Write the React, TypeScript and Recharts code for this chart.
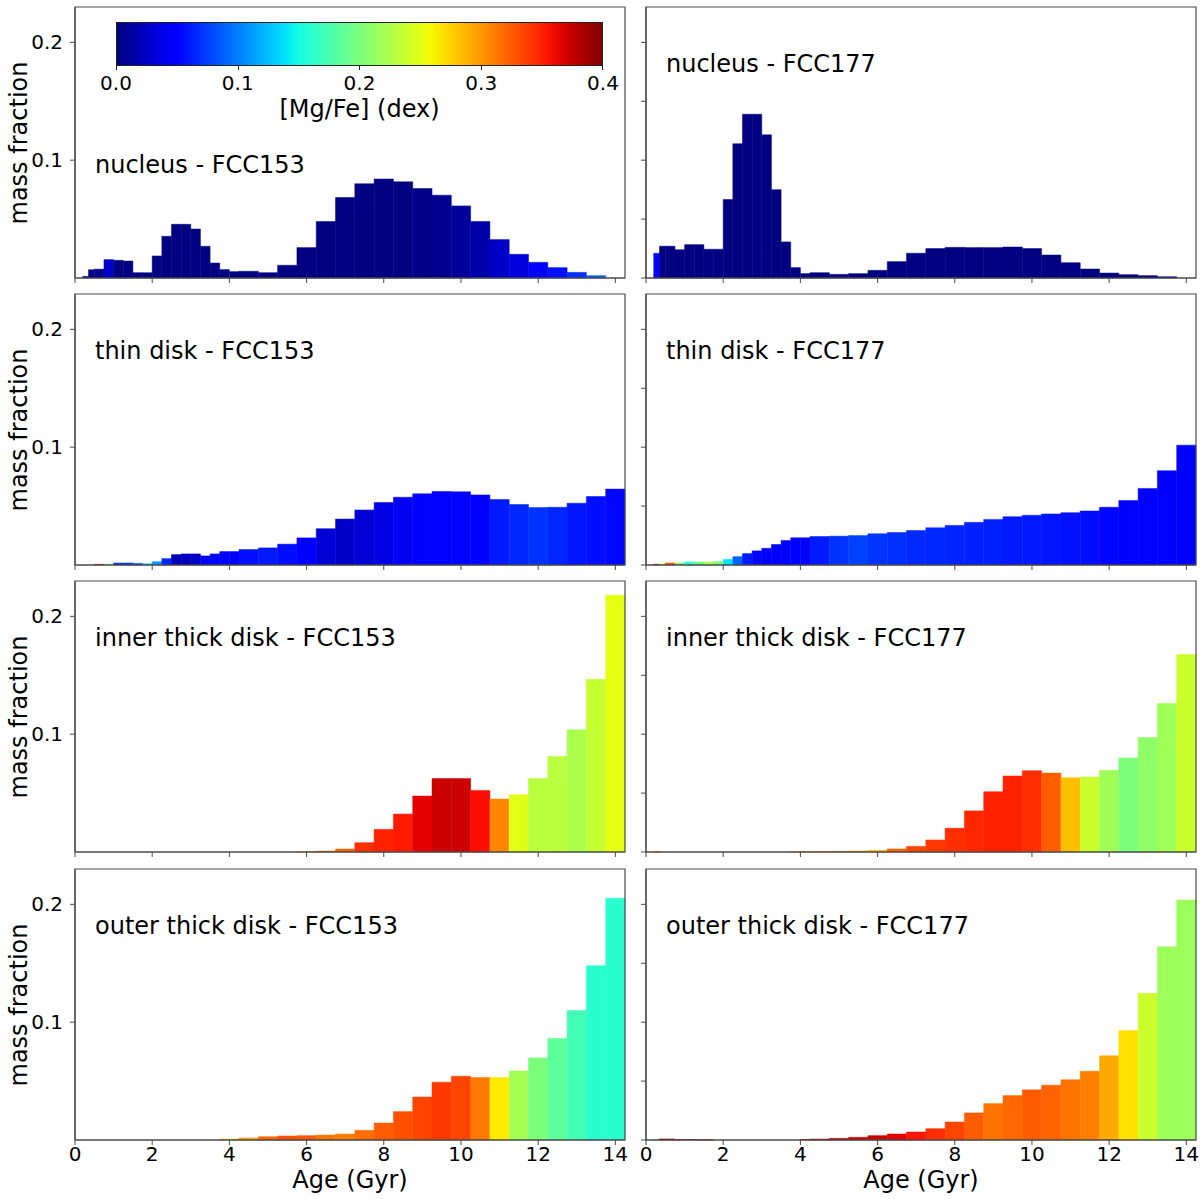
import { ComposedChart, XAxis, YAxis, ReferenceArea } from 'recharts'

// age bin edges (Gyr), shared by all panels: 0.25 steps up to 4.25, 0.5 steps after
const AGE_EDGES = [
  0.2, 0.35, 0.5, 0.75, 1.0, 1.25, 1.5, 1.75, 2.0,
  2.25, 2.5, 2.75, 3.0, 3.25, 3.5, 3.75, 4.0, 4.25,
  4.75, 5.25, 5.75, 6.25, 6.75, 7.25, 7.75, 8.25, 8.75, 9.25,
  9.75, 10.25, 10.75, 11.25, 11.75, 12.25, 12.75, 13.25, 13.75, 14.25,
]
const X_TICKS = [0, 2, 4, 6, 8, 10, 12, 14]
const Y_TICKS_LEFT = [0.1, 0.2]
const Y_TICKS_RIGHT = [0, 0.05, 0.1, 0.15, 0.2]
const CBAR_TICKS = [0, 0.1, 0.2, 0.3, 0.4]
const X_MAX = 14.25
const Y_MAX = 0.23
const MGFE_MAX = 0.4

// mass fraction per bin / [Mg/Fe] per bin
const NUCLEUS_153_FRAC = [
  0.0014, 0.007, 0.0075, 0.0156, 0.015, 0.0144, 0.0045, 0.0045,
  0.0187, 0.0354, 0.0456, 0.0456, 0.0416, 0.0269, 0.0127, 0.0071, 0.0054,
  0.0057, 0.0045, 0.0108, 0.0258, 0.048, 0.0683, 0.080, 0.084, 0.0816, 0.0759,
  0.0703, 0.0612, 0.048, 0.0326, 0.0201, 0.0133, 0.0088, 0.0048, 0.002, 0,
]
const NUCLEUS_153_MGFE = [
  0, 0, 0.005, 0.025, 0, 0, 0, 0,
  0, 0, 0, 0, 0, 0, 0, 0, 0,
  0, 0, 0, 0, 0, 0, 0, 0, 0, 0.003,
  0.005, 0.009, 0.015, 0.025, 0.033, 0.042, 0.056, 0.068, 0.087, 0,
]
const NUCLEUS_177_FRAC = [
  0.021, 0.027, 0.027, 0.024, 0.0283, 0.0283, 0.0244, 0.0244,
  0.0666, 0.1139, 0.139, 0.139, 0.1215, 0.075, 0.0306, 0.0088, 0.0037,
  0.0045, 0.0031, 0.0037, 0.0065, 0.0139, 0.021, 0.025, 0.026, 0.0258, 0.0258,
  0.0263, 0.025, 0.0195, 0.013, 0.0076, 0.0042, 0.0028, 0.002, 0.0011, 0,
]
const NUCLEUS_177_MGFE = [
  0.05, 0, 0, 0, 0, 0, 0, 0,
  0, 0, 0, 0, 0, 0, 0, 0, 0,
  0, 0, 0, 0, 0, 0, 0, 0, 0, 0,
  0, 0, 0, 0, 0, 0, 0, 0, 0, 0,
]
const THIN_153_FRAC = [
  0, 0, 0.0006, 0.0006, 0.0017, 0.0017, 0.0014, 0.0011,
  0.0028, 0.0054, 0.0088, 0.0094, 0.0094, 0.0077, 0.0094, 0.0114, 0.0114,
  0.0131, 0.0145, 0.0177, 0.023, 0.0308, 0.039, 0.0467, 0.053, 0.0575, 0.0604,
  0.0624, 0.0621, 0.0595, 0.0556, 0.0513, 0.0487, 0.049, 0.0524, 0.0581, 0.0644,
]
const THIN_153_MGFE = [
  0, 0, 0.36, 0.2, 0.07, 0.07, 0.08, 0.13,
  0.11, 0.065, 0.02, 0.022, 0.025, 0.04, 0.045, 0.05, 0.05,
  0.055, 0.06, 0.055, 0.048, 0.03, 0.025, 0.03, 0.035, 0.04, 0.045,
  0.047, 0.048, 0.05, 0.06, 0.065, 0.07, 0.065, 0.058, 0.055, 0.052,
]
const THIN_177_FRAC = [
  0.0006, 0.0008, 0.0017, 0.0017, 0.0026, 0.0026, 0.0026, 0.003,
  0.0048, 0.0071, 0.0097, 0.012, 0.0142, 0.0174, 0.0208, 0.0231, 0.0231,
  0.0242, 0.0245, 0.025, 0.0265, 0.0276, 0.0293, 0.0316, 0.0336, 0.0362, 0.0387,
  0.041, 0.0422, 0.0433, 0.0444, 0.0459, 0.049, 0.0547, 0.065, 0.080, 0.1017,
]
const THIN_177_MGFE = [
  0.38, 0.26, 0.33, 0.2, 0.16, 0.19, 0.22, 0.2,
  0.14, 0.09, 0.06, 0.052, 0.048, 0.045, 0.044, 0.05, 0.05,
  0.06, 0.07, 0.075, 0.07, 0.068, 0.066, 0.065, 0.064, 0.063, 0.062,
  0.06, 0.06, 0.058, 0.056, 0.055, 0.052, 0.05, 0.05, 0.05, 0.05,
]
const INNER_153_FRAC = [
  0, 0, 0, 0, 0, 0, 0, 0,
  0, 0, 0, 0, 0, 0, 0, 0, 0,
  0, 0, 0, 0.0003, 0.0008, 0.0025, 0.0079, 0.0192, 0.0322, 0.0475,
  0.0624, 0.0624, 0.0523, 0.0449, 0.0486, 0.0624, 0.0811, 0.1037, 0.1466, 0.218,
]
const INNER_153_MGFE = [
  0, 0, 0, 0, 0, 0, 0, 0,
  0, 0, 0, 0, 0, 0, 0, 0, 0,
  0, 0, 0, 0.295, 0.315, 0.324, 0.344, 0.35, 0.353, 0.365,
  0.374, 0.374, 0.358, 0.307, 0.249, 0.23, 0.23, 0.223, 0.236, 0.252,
]
const INNER_177_FRAC = [
  0.0005, 0, 0, 0, 0, 0, 0, 0,
  0, 0, 0, 0, 0, 0, 0, 0.0002, 0.0002,
  0.0003, 0.0005, 0.0008, 0.0014, 0.0026, 0.0048, 0.0102, 0.0202, 0.0349, 0.0511,
  0.0645, 0.069, 0.067, 0.063, 0.0636, 0.0693, 0.0798, 0.0972, 0.126, 0.1676,
]
const INNER_177_MGFE = [
  0.31, 0, 0, 0, 0, 0, 0, 0,
  0, 0, 0, 0, 0, 0, 0, 0.3, 0.3,
  0.3, 0.3, 0.3, 0.29, 0.322, 0.335, 0.34, 0.345, 0.348, 0.35,
  0.35, 0.345, 0.324, 0.283, 0.238, 0.218, 0.2, 0.21, 0.218, 0.238,
]
const OUTER_153_FRAC = [
  0, 0, 0, 0, 0, 0, 0, 0,
  0, 0, 0, 0, 0, 0, 0, 0.0008, 0.0008,
  0.0017, 0.0028, 0.0034, 0.0037, 0.0042, 0.0051, 0.0082, 0.0144, 0.0241, 0.0365,
  0.049, 0.0541, 0.053, 0.053, 0.0586, 0.0697, 0.0861, 0.1099, 0.1479, 0.2051,
]
const OUTER_153_MGFE = [
  0, 0, 0, 0, 0, 0, 0, 0,
  0, 0, 0, 0, 0, 0, 0, 0.28, 0.28,
  0.295, 0.32, 0.33, 0.327, 0.315, 0.31, 0.318, 0.325, 0.33, 0.335,
  0.34, 0.335, 0.313, 0.264, 0.22, 0.2, 0.185, 0.172, 0.16, 0.16,
]
const OUTER_177_FRAC = [
  0.0006, 0.0009, 0.0009, 0.0004, 0.0004, 0.0003, 0.0003, 0,
  0, 0, 0, 0, 0, 0, 0, 0, 0.0005,
  0.0008, 0.0014, 0.0023, 0.0037, 0.0051, 0.0068, 0.0096, 0.0153, 0.023, 0.0309,
  0.0377, 0.0426, 0.0465, 0.0511, 0.0584, 0.0715, 0.093, 0.1245, 0.164, 0.2037,
]
const OUTER_177_MGFE = [
  0.2, 0.39, 0.39, 0.38, 0.38, 0.38, 0.38, 0,
  0, 0, 0, 0, 0, 0, 0, 0, 0.385,
  0.385, 0.385, 0.375, 0.375, 0.365, 0.355, 0.345, 0.335, 0.325, 0.315,
  0.32, 0.325, 0.322, 0.315, 0.31, 0.292, 0.269, 0.238, 0.216, 0.216,
]

const PANELS = [
  { title: 'nucleus - FCC153', frac: NUCLEUS_153_FRAC, mgfe: NUCLEUS_153_MGFE, row: 0, col: 0 },
  { title: 'nucleus - FCC177', frac: NUCLEUS_177_FRAC, mgfe: NUCLEUS_177_MGFE, row: 0, col: 1 },
  { title: 'thin disk - FCC153', frac: THIN_153_FRAC, mgfe: THIN_153_MGFE, row: 1, col: 0 },
  { title: 'thin disk - FCC177', frac: THIN_177_FRAC, mgfe: THIN_177_MGFE, row: 1, col: 1 },
  { title: 'inner thick disk - FCC153', frac: INNER_153_FRAC, mgfe: INNER_153_MGFE, row: 2, col: 0 },
  { title: 'inner thick disk - FCC177', frac: INNER_177_FRAC, mgfe: INNER_177_MGFE, row: 2, col: 1 },
  { title: 'outer thick disk - FCC153', frac: OUTER_153_FRAC, mgfe: OUTER_153_MGFE, row: 3, col: 0 },
  { title: 'outer thick disk - FCC177', frac: OUTER_177_FRAC, mgfe: OUTER_177_MGFE, row: 3, col: 1 },
]

// layout (page px)
const COL_LEFT = [75, 646]
const ROW_TOP = [7, 294, 581, 869]
const PW = 550
const PH = 271
const YW = 60
const FONT = 'DejaVu Sans, Verdana, sans-serif'
const SPINE = '#4a4a4a'

// matplotlib 'jet'
const JET_R = [[0, 0], [0.35, 0], [0.66, 1], [0.89, 1], [1, 0.5]]
const JET_G = [[0, 0], [0.125, 0], [0.375, 1], [0.64, 1], [0.91, 0], [1, 0]]
const JET_B = [[0, 0.5], [0.11, 1], [0.34, 1], [0.65, 0], [1, 0]]
function seg(pts: number[][], t: number) {
  for (let i = 1; i < pts.length; i++) {
    if (t <= pts[i][0]) {
      const [x0, y0] = pts[i - 1], [x1, y1] = pts[i]
      return y0 + (y1 - y0) * (t - x0) / (x1 - x0)
    }
  }
  return pts[pts.length - 1][1]
}
function jet(t: number) {
  const u = Math.min(1, Math.max(0, t))
  const c = [seg(JET_R, u), seg(JET_G, u), seg(JET_B, u)].map(v => Math.round(v * 255))
  return `rgb(${c.join(',')})`
}

function Panel({ title, frac, mgfe, row, col }: any) {
  const bins = frac.map((v: number, i: number) => ({
    lo: AGE_EDGES[i], hi: AGE_EDGES[i + 1], frac: v, color: jet(mgfe[i] / MGFE_MAX),
  }))
  const left = COL_LEFT[col]
  const top = ROW_TOP[row]
  const bottomRow = row === 3
  return (
    <>
      <div style={{ position: 'absolute', left: left - YW, top: top - 10 }}>
        <ComposedChart width={YW + PW + 10} height={10 + PH + 30} data={bins}
          margin={{ top: 10, right: 10, bottom: 0, left: 0 }}>
          <XAxis type="number" dataKey="lo" domain={[0, X_MAX]} ticks={X_TICKS} interval={0}
            allowDataOverflow height={30} tickSize={5} tickMargin={2}
            axisLine={{ stroke: SPINE, strokeWidth: 1.2 }} tickLine={{ stroke: SPINE }}
            tick={{ fontSize: 20, fill: '#000', fontFamily: FONT }}
            tickFormatter={bottomRow ? (v: number) => String(v) : () => ''} />
          <YAxis type="number" domain={[0, Y_MAX]} allowDataOverflow width={YW}
            ticks={col === 0 ? Y_TICKS_LEFT : Y_TICKS_RIGHT} interval={0}
            tickSize={5} tickMargin={7}
            axisLine={{ stroke: SPINE, strokeWidth: 1.2 }} tickLine={{ stroke: SPINE }}
            tick={{ fontSize: 20, fill: '#000', fontFamily: FONT }}
            tickFormatter={col === 0 ? (v: number) => v.toFixed(1) : () => ''} />
          {bins.filter((b: any) => b.frac > 0).map((b: any) => (
            <ReferenceArea key={b.lo} x1={b.lo} x2={b.hi} y1={0} y2={b.frac}
              fill={b.color} fillOpacity={1} stroke={b.color} strokeWidth={0.5}
              ifOverflow="visible" />
          ))}
          <ReferenceArea x1={0} x2={X_MAX} y1={0} y2={Y_MAX} fill="none"
            stroke={SPINE} strokeWidth={1.2} ifOverflow="visible" />
        </ComposedChart>
      </div>
      <div style={{
        position: 'absolute', left: left + 20,
        top: (row === 0 && col === 0 ? 164 : top + 56) - 11.5,
        fontSize: 24, lineHeight: '24px', fontFamily: FONT, whiteSpace: 'nowrap', color: '#000',
      }}>{title}</div>
    </>
  )
}

function Colorbar() {
  const x0 = 116, w = 487, y0 = 22, h = 44
  const stops = Array.from({ length: 41 }, (_, i) => `${jet(i / 40)} ${(i / 40 * 100).toFixed(1)}%`)
  return (
    <>
      <div style={{
        position: 'absolute', left: x0, top: y0, width: w, height: h, boxSizing: 'border-box',
        border: '1px solid #222', background: `linear-gradient(to right, ${stops.join(', ')})`,
      }} />
      {CBAR_TICKS.map(t => (
        <div key={t}>
          <div style={{ position: 'absolute', left: x0 + (t / MGFE_MAX) * (w - 1), top: y0 + h, width: 1, height: 4, background: '#222' }} />
          <div style={{
            position: 'absolute', left: x0 + (t / MGFE_MAX) * w - 40, top: 73, width: 80,
            textAlign: 'center', fontSize: 20, lineHeight: '20px', fontFamily: FONT,
          }}>{t.toFixed(1)}</div>
        </div>
      ))}
      <div style={{
        position: 'absolute', left: x0 + w / 2 - 150, top: 97, width: 300, textAlign: 'center',
        fontSize: 24, lineHeight: '24px', fontFamily: FONT,
      }}>[Mg/Fe] (dex)</div>
    </>
  )
}

export default function App() {
  return (
    <div style={{
      position: 'absolute', left: 0, top: 0, width: 1200, height: 1199,
      overflow: 'hidden', background: '#fff', fontFamily: FONT,
    }}>
      {PANELS.map(p => <Panel key={p.title} {...p} />)}
      <Colorbar />
      {ROW_TOP.map(t => (
        <div key={t} style={{
          position: 'absolute', left: 18.5 - PH / 2, top: t + PH / 2 - 14, width: PH, height: 28,
          lineHeight: '28px', fontSize: 24, textAlign: 'center', transform: 'rotate(-90deg)',
          whiteSpace: 'nowrap',
        }}>mass fraction</div>
      ))}
      {COL_LEFT.map(l => (
        <div key={l} style={{
          position: 'absolute', left: l, top: 1168, width: PW, textAlign: 'center',
          fontSize: 24, lineHeight: '24px',
        }}>Age (Gyr)</div>
      ))}
    </div>
  )
}
